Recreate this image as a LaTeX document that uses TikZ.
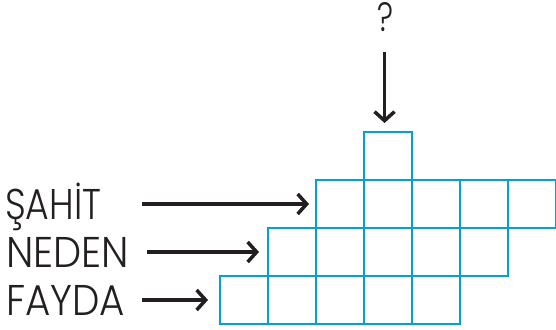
\documentclass[tikz,border=0pt]{standalone}
\usepackage{fontspec}
\setmainfont{Poppins}[UprightFont={* Light}]
\usetikzlibrary{arrows.meta}
\definecolor{gridblue}{RGB}{0,158,226}
\definecolor{ink}{RGB}{35,31,32}
\begin{document}
\begin{tikzpicture}[x=1pt,y=-1pt,
  cell/.style={draw=gridblue,line width=2pt,minimum size=48pt,inner sep=0pt,outer sep=0pt,anchor=north west},
  lab/.style={font=\fontsize{43}{43}\selectfont,text=ink,anchor=base west,inner sep=0pt},
  arr/.style={draw=ink,line width=3.5pt,-{Straight Barb[length=9pt,width=20pt]}}]
\useasboundingbox (0,0) rectangle (556,329);
\node[cell] (t) at (363.5,132) {};
\foreach \i in {0,...,4}{
  \node[cell] (a\i) at ({315.5+48*\i},180) {};
  \node[cell] (b\i) at ({267.5+48*\i},228) {};
  \node[cell] (c\i) at ({219.5+48*\i},276) {};
}
\node[lab] (l1) at (5,219) {\resizebox{96pt}{\height}{ŞAHİT}};
\node[lab] (l2) at (6,267) {\resizebox{123pt}{\height}{NEDEN}};
\node[lab] (l3) at (6,315) {\resizebox{119pt}{\height}{FAYDA}};
\node[lab,anchor=base] (q) at (385,32) {\resizebox{16pt}{29pt}{?}};
\coordinate (s1) at (142,204);
\coordinate (s2) at (147,252);
\coordinate (s3) at (142,300);
\coordinate (s4) at (384.5,52);
\draw[arr,shorten >=6.5pt] (s1) -- (a0.west);
\draw[arr,shorten >=8.5pt] (s2) -- (b0.west);
\draw[arr,shorten >=11.5pt] (s3) -- (c0.west);
\draw[arr,shorten >=9pt] (s4) -- (s4 |- t.north);
\end{tikzpicture}
\end{document}
